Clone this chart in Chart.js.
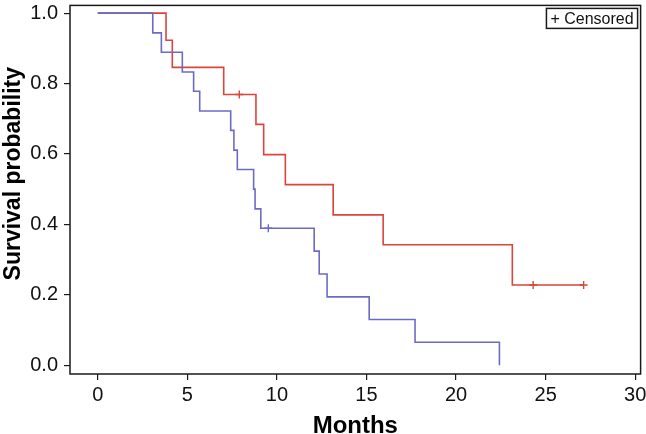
<!DOCTYPE html>
<html>
<head>
<meta charset="utf-8">
<script src="https://cdn.jsdelivr.net/npm/chart.js@4.4.0/dist/chart.umd.min.js"></script>
<style>
  html, body { margin: 0; padding: 0; background: #fff; }
  #wrap { width: 646px; height: 434px; }
</style>
</head>
<body>
<div id="wrap"><canvas id="kmChart" width="646" height="434"></canvas></div>
<script>
// Kaplan-Meier steps (time in months, survival after the drop)
const redTimes = [0, 3.81, 4.16, 7.03, 8.83, 9.26, 10.47, 13.14, 15.93, 23.14, 27.12];
const redSurv  = [1, 0.923, 0.846, 0.769, 0.684, 0.598, 0.513, 0.427, 0.342, 0.228, 0.228];
const redCensorTimes = [7.9, 24.3, 27.12];
const redCensorSurv  = [0.769, 0.228, 0.228];

const blueTimes = [0, 3.07, 3.55, 4.72, 5.35, 5.69, 7.42, 7.6, 7.79, 8.70, 8.78, 9.1, 12.08, 12.36, 12.8, 15.15, 17.71, 22.42];
const blueSurv  = [1, 0.944, 0.889, 0.833, 0.778, 0.722, 0.667, 0.611, 0.556, 0.5, 0.444, 0.389, 0.324, 0.259, 0.194, 0.130, 0.065, 0];
const blueCensorTimes = [9.52];
const blueCensorSurv  = [0.389];

const xTicks = [0, 5, 10, 15, 20, 25, 30];
const yTicks = [0, 0.2, 0.4, 0.6, 0.8, 1.0];

const redColor = '#d8463c';
const blueColor = '#6b6bc6';

const toPts = (xs, ys) => xs.map((x, i) => ({ x: x, y: ys[i] }));

// no extra room for overhanging tick labels
const noOverhang = s => { s.paddingTop = 0; s.paddingBottom = 0; s.paddingLeft = 0; s.paddingRight = 0; };

// box around the plot plus the "+ Censored" key
const framePlugin = {
    id: 'frame',
    afterDraw(chart) {
        const { ctx, chartArea: a } = chart;
        ctx.save();
        ctx.strokeStyle = '#1a1a1a';
        ctx.lineWidth = 1.5;
        ctx.strokeRect(a.left, a.top, a.right - a.left, a.bottom - a.top);

        ctx.font = '16px "Liberation Sans", Arial, sans-serif';
        const label = '+ Censored';
        const w = ctx.measureText(label).width + 8;
        const bx = a.right - 3 - w, by = a.top + 3, bh = 20;
        ctx.fillStyle = '#fff';
        ctx.fillRect(bx, by, w, bh);
        ctx.strokeRect(bx, by, w, bh);
        ctx.fillStyle = '#111';
        ctx.textBaseline = 'middle';
        ctx.fillText(label, bx + 4, by + bh / 2 + 1);
        ctx.restore();
    }
};

const ctx = document.getElementById('kmChart').getContext('2d');
const kmChart = new Chart(ctx, {
    type: 'scatter',
    data: {
        datasets: [
            {
                label: 'Group B',
                data: toPts(blueTimes, blueSurv),
                showLine: true,
                stepped: 'before',
                borderColor: blueColor,
                borderWidth: 1.6,
                pointRadius: 0,
                fill: false
            },
            {
                label: 'Group B censored',
                data: toPts(blueCensorTimes, blueCensorSurv),
                pointStyle: 'cross',
                pointRadius: 4,
                borderColor: blueColor,
                borderWidth: 1.4
            },
            {
                label: 'Group A',
                data: toPts(redTimes, redSurv),
                showLine: true,
                stepped: 'before',
                borderColor: redColor,
                borderWidth: 1.6,
                pointRadius: 0,
                fill: false
            },
            {
                label: 'Group A censored',
                data: toPts(redCensorTimes, redCensorSurv),
                pointStyle: 'cross',
                pointRadius: 4,
                borderColor: redColor,
                borderWidth: 1.4
            }
        ]
    },
    options: {
        responsive: false,
        animation: false,
        layout: { padding: { top: -1, right: 4, left: 0, bottom: 0 } },
        plugins: { legend: { display: false }, tooltip: { enabled: false } },
        scales: {
            x: {
                type: 'linear',
                min: -1.55,
                max: 30.3,
                afterBuildTicks: s => { s.ticks = xTicks.map(v => ({ value: v })); },
                afterFit: s => { s.height = 60; noOverhang(s); },
                grid: { drawOnChartArea: false, drawTicks: true, tickLength: 6, color: '#1a1a1a', lineWidth: 1.2 },
                border: { display: false },
                ticks: {
                    color: '#111',
                    padding: 3,
                    maxRotation: 0,
                    font: { family: '"Liberation Sans", Arial, sans-serif', size: 20 }
                },
                title: {
                    display: true,
                    text: 'Months',
                    color: '#000',
                    padding: { top: 0, bottom: -4 },
                    font: { family: '"Liberation Sans", Arial, sans-serif', size: 24, weight: 'bold', lineHeight: 1 }
                }
            },
            y: {
                type: 'linear',
                min: -0.025,
                max: 1.022,
                afterBuildTicks: s => { s.ticks = yTicks.map(v => ({ value: v })); },
                afterFit: s => { s.width = 70; noOverhang(s); },
                grid: { drawOnChartArea: false, drawTicks: true, tickLength: 6, color: '#1a1a1a', lineWidth: 1.2 },
                border: { display: false },
                ticks: {
                    color: '#111',
                    padding: 6,
                    callback: v => v.toFixed(1),
                    font: { family: '"Liberation Sans", Arial, sans-serif', size: 20 }
                },
                title: {
                    display: true,
                    text: '     Survival probability',
                    color: '#000',
                    padding: { top: 0, bottom: 0 },
                    font: { family: '"Liberation Sans", Arial, sans-serif', size: 23, weight: 'bold' }
                }
            }
        }
    },
    plugins: [framePlugin]
});
</script>
</body>
</html>
